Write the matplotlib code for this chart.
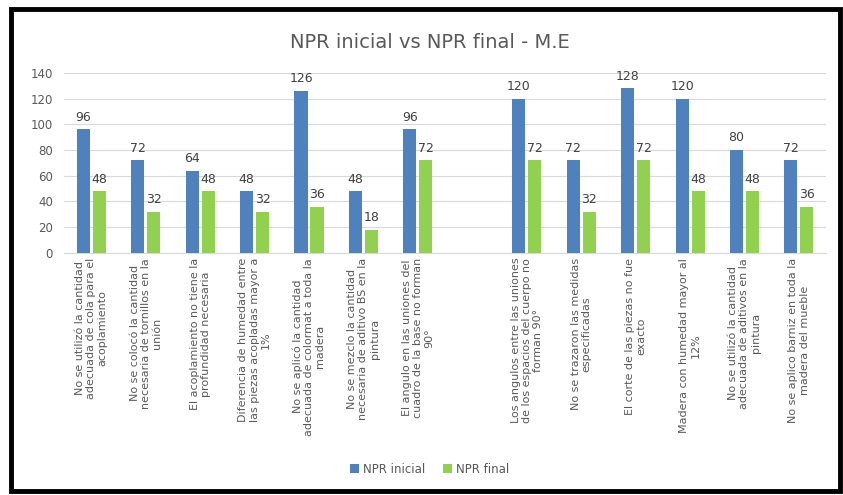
import numpy as np
import matplotlib.pyplot as plt
from matplotlib.patches import Rectangle

plt.rcParams['font.family'] = ['Liberation Sans Narrow', 'DejaVu Sans']

# categories (empty slot kept as in the original chart)
categorias = [
    "No se utilizó la cantidad\nadecuada de cola para el\nacoplamiento",
    "No se colocó la cantidad\nnecesaria de tornillos en la\nunión",
    "El acoplamiento no tiene la\nprofundidad necesaria",
    "Diferencia de humedad entre\nlas piezas acopladas mayor a\n1%",
    "No se aplicó la cantidad\nadecuada de colormat a toda la\nmadera",
    "No se mezclo la cantidad\nnecesaria de aditivo BS en la\npintura",
    "El angulo en las uniones del\ncuadro de la base no forman\n90°",
    "",
    "Los angulos entre las uniones\nde los espacios del cuerpo no\nforman 90°",
    "No se trazaron las medidas\nespecificadas",
    "El corte de las piezas no fue\nexacto",
    "Madera con humedad mayor al\n12%",
    "No se utilizó la cantidad\nadecuada de aditivos en la\npintura",
    "No se aplico barniz en toda la\nmadera del mueble",
]
npr_inicial = [96, 72, 64, 48, 126, 48, 96, np.nan, 120, 72, 128, 120, 80, 72]
npr_final = [48, 32, 48, 32, 36, 18, 72, np.nan, 72, 32, 72, 48, 48, 36]

azul = "#4f81bd"
verde = "#92d050"
gris = "#595959"

fig = plt.figure(figsize=(8.43, 4.95), dpi=100)
fig.patch.set_facecolor("white")
# black frame around the chart
fig.patches.append(Rectangle((0.013, 0.008), 0.984, 0.973, transform=fig.transFigure,
                             fill=False, edgecolor="black", linewidth=3.5))

ax = fig.add_axes([0.076, 0.489, 0.904, 0.364])
x = np.arange(len(categorias))
w = 0.24
b1 = ax.bar(x - 0.147, npr_inicial, w, color=azul, label="NPR inicial", zorder=3)
b2 = ax.bar(x + 0.147, npr_final, w, color=verde, label="NPR final", zorder=3)

for barras in (b1, b2):
    for r in barras:
        h = r.get_height()
        if np.isnan(h):
            continue
        ax.annotate(f"{int(h)}", (r.get_x() + r.get_width() / 2, h),
                    xytext=(0, 4), textcoords="offset points",
                    ha="center", va="bottom", fontsize=9, color="#404040")

ax.set_xlim(-0.5, len(categorias) - 0.5)
ax.set_ylim(0, 140)
ax.set_yticks(range(0, 141, 20))
ax.yaxis.grid(True, color="#d9d9d9", linewidth=0.8, zorder=0)
ax.set_axisbelow(True)
for s in ["top", "right", "left"]:
    ax.spines[s].set_visible(False)
ax.spines["bottom"].set_color("#d9d9d9")
ax.tick_params(axis="both", length=0, colors=gris, labelsize=8.5)
ax.tick_params(axis="y", pad=8)
ax.set_xticks(x)
ax.set_xticklabels(categorias, rotation=90, fontsize=8, color=gris,
                   multialignment="center", linespacing=1.15)

fig.text(0.51, 0.915, "NPR inicial vs NPR final - M.E", ha="center", va="center",
         fontsize=14, color=gris)
fig.legend(handles=[b1, b2], loc="center", bbox_to_anchor=(0.51, 0.052), ncol=2,
           frameon=False, fontsize=8.5, handlelength=0.7, handleheight=0.7,
           columnspacing=1.5, handletextpad=0.4, labelcolor=gris)

fig.savefig("out.png", dpi=100, facecolor="white")
